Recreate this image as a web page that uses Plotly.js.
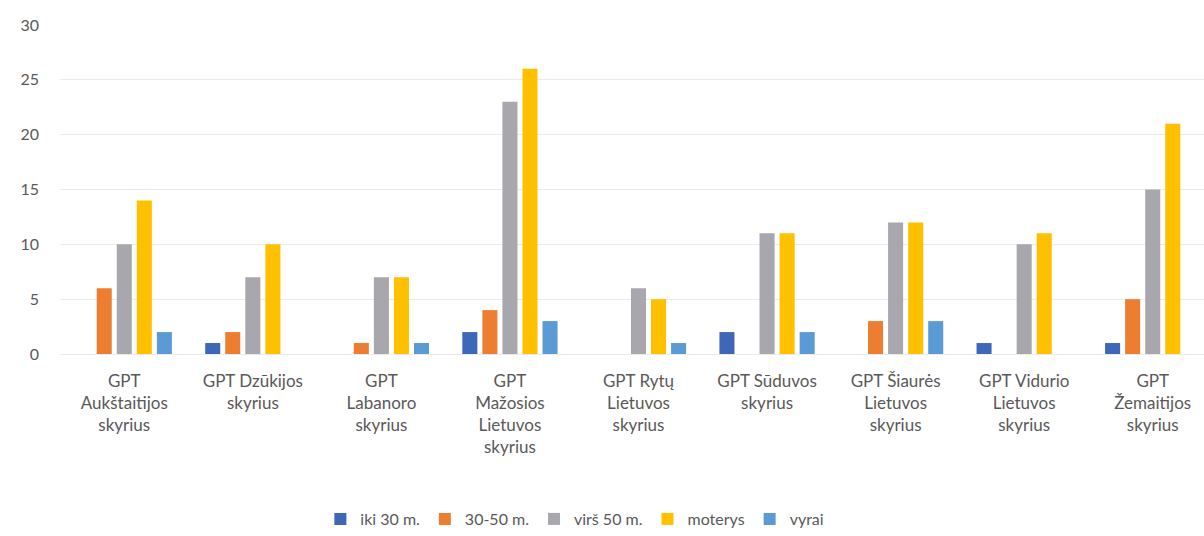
<!DOCTYPE html>
<html>
<head>
<meta charset="utf-8">
<script src="https://cdn.plot.ly/plotly-3.0.1.min.js"></script>
<style>html,body{margin:0;padding:0;overflow:hidden;background:#fff;width:1204px;height:536px;}#chart{width:1217px;height:536px;}</style>
</head>
<body>
<div id="chart"></div>
<script>
const categories = [
  "GPT<br>Aukštaitijos<br>skyrius",
  "GPT Dzūkijos<br>skyrius",
  "GPT<br>Labanoro<br>skyrius",
  "GPT<br>Mažosios<br>Lietuvos<br>skyrius",
  "GPT Rytų<br>Lietuvos<br>skyrius",
  "GPT Sūduvos<br>skyrius",
  "GPT Šiaurės<br>Lietuvos<br>skyrius",
  "GPT Vidurio<br>Lietuvos<br>skyrius",
  "GPT<br>Žemaitijos<br>skyrius"
];
const seriesNames = ["iki 30 m.", "30-50 m.", "virš 50 m.", "moterys", "vyrai"];
const iki30 =   [0, 1, 0, 2, 0, 2, 0, 1, 1];
const m30_50 =  [6, 2, 1, 4, 0, 0, 3, 0, 5];
const virs50 =  [10, 7, 7, 23, 6, 11, 12, 10, 15];
const moterys = [14, 10, 7, 26, 5, 11, 12, 11, 21];
const vyrai =   [2, 0, 1, 3, 1, 2, 3, 0, 0];
const yTicks = [0, 5, 10, 15, 20, 25, 30];

const colors = ["#3F67B8", "#ED7D31", "#A7A7AD", "#FFC000", "#5B9BD5"];
const values = [iki30, m30_50, virs50, moterys, vyrai];

const traces = values.map((v, i) => ({
  type: "bar",
  name: seriesNames[i],
  x: categories,
  y: v,
  marker: {color: colors[i]},
  hoverinfo: "y+name"
}));

const layout = {
  width: 1217,
  height: 536,
  margin: {l: 60, r: 0, t: 25, b: 181},
  paper_bgcolor: "#ffffff",
  plot_bgcolor: "#ffffff",
  font: {family: "Lato, 'Open Sans', sans-serif", size: 16, color: "#595959"},
  barmode: "group",
  bargap: 0.22,
  bargroupgap: 0.25,
  showlegend: true,
  legend: {
    orientation: "h",
    x: 0.445, xanchor: "center",
    y: -0.5, yanchor: "middle",
    font: {size: 16, color: "#595959"},
    itemwidth: 30
  },
  xaxis: {
    type: "category",
    tickangle: 0,
    showgrid: false,
    showline: false,
    zeroline: false,
    ticks: "",
    ticklabelstandoff: 15,
    tickfont: {size: 17, color: "#595959"}
  },
  yaxis: {
    range: [0, 30],
    tickvals: yTicks,
    ticktext: yTicks.map(String),
    showgrid: true,
    gridcolor: "#ebebeb",
    gridwidth: 1,
    zeroline: true,
    zerolinecolor: "#ebebeb",
    showline: false,
    ticks: "",
    ticklabelstandoff: 20,
    tickfont: {size: 16, color: "#595959"}
  }
};

Plotly.newPlot("chart", traces, layout, {displayModeBar: false, staticPlot: true});
</script>
</body>
</html>
